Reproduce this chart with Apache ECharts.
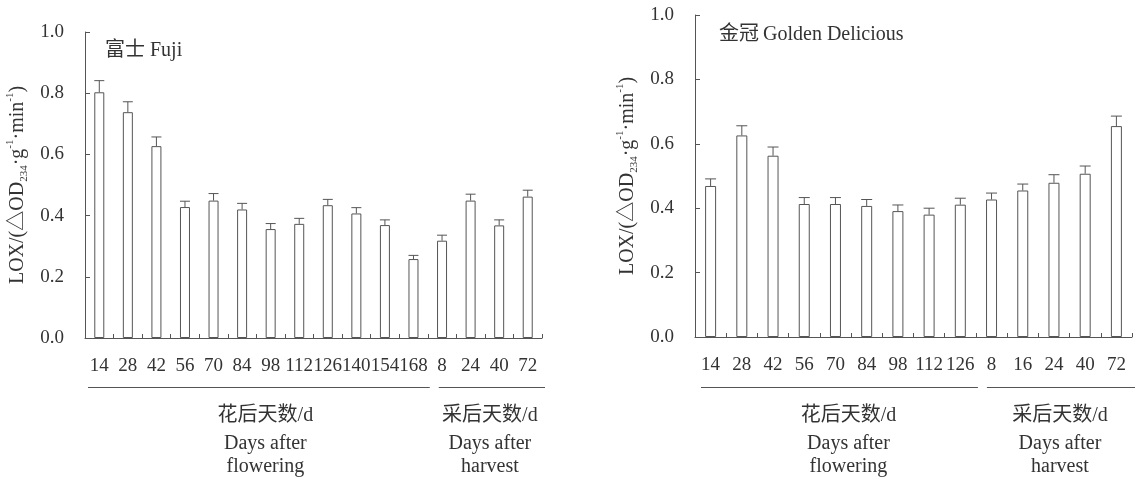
<!DOCTYPE html>
<html>
<head>
<meta charset="utf-8">
<script src="https://cdn.jsdelivr.net/npm/echarts@6/dist/echarts.min.js"></script>
<style>
html,body{margin:0;padding:0;background:#fff;}
#chart{width:1140px;height:484px;}
</style>
</head>
<body>
<div id="chart"></div>
<script>
// ---- data ----
const fujiCategories = ['14','28','42','56','70','84','98','112','126','140','154','168','8','24','40','72'];
const fujiValues = [0.803,0.738,0.627,0.428,0.449,0.420,0.356,0.373,0.434,0.407,0.369,0.258,0.318,0.449,0.368,0.462];
const fujiErrors = [0.038,0.034,0.030,0.019,0.023,0.020,0.018,0.018,0.019,0.019,0.017,0.012,0.018,0.021,0.018,0.021];
const fujiPreCount = 12;   // days after flowering
const goldenCategories = ['14','28','42','56','70','84','98','112','126','8','16','24','40','72'];
const goldenValues = [0.469,0.626,0.563,0.413,0.413,0.407,0.391,0.380,0.411,0.427,0.455,0.479,0.507,0.655];
const goldenErrors = [0.022,0.030,0.027,0.020,0.020,0.020,0.019,0.020,0.020,0.020,0.020,0.025,0.024,0.031];
const goldenPreCount = 9;
const yTicks = [0, 0.2, 0.4, 0.6, 0.8, 1.0];
const titles = ['富士 Fuji', '金冠\u2009Golden Delicious'];
const groupLabels = [['花后天数/d','Days after','flowering'], ['采后天数/d','Days after','harvest']];

const SERIF = '"Liberation Serif","Times New Roman","Noto Sans CJK SC",serif';
const AXIS_COLOR = '#555';
const TEXT_COLOR = '#333';

const chart = echarts.init(document.getElementById('chart'));

function yAxisCfg(gi){
  return {
    type:'value', gridIndex:gi, min:yTicks[0], max:yTicks[yTicks.length-1], interval:0.2,
    axisLine:{show:true, lineStyle:{color:AXIS_COLOR, width:1}},
    axisTick:{show:true, inside:true, length:5, lineStyle:{color:AXIS_COLOR}},
    splitLine:{show:false},
    axisLabel:{margin:21, fontFamily:SERIF, fontSize:19, color:TEXT_COLOR, formatter:v=>v.toFixed(1)},
    name:'{m|LOX/(△OD}{sub|234}{m|·g}{sup|-1}{m|·min}{sup|-1}{m|)}',
    nameLocation:'middle', nameRotate:90, nameGap:55,
    nameTextStyle:{
      fontFamily:SERIF, fontSize:20, color:TEXT_COLOR,
      rich:{
        m:{fontFamily:SERIF, fontSize:20, lineHeight:25, color:TEXT_COLOR, verticalAlign:'middle'},
        sub:{fontFamily:SERIF, fontSize:11, color:TEXT_COLOR, verticalAlign:'bottom'},
        sup:{fontFamily:SERIF, fontSize:11, color:TEXT_COLOR, verticalAlign:'top'}
      }
    }
  };
}
function xAxisCfg(gi, cats){
  return {
    type:'category', gridIndex:gi, data:cats,
    axisLine:{show:true, lineStyle:{color:AXIS_COLOR, width:1}},
    axisTick:{show:true, inside:true, length:4, lineStyle:{color:AXIS_COLOR}},
    axisLabel:{interval:0, hideOverlap:false, margin:19, fontFamily:SERIF, fontSize:19, color:TEXT_COLOR}
  };
}
function barSeries(gi, vals, w){
  return {
    type:'bar', xAxisIndex:gi, yAxisIndex:gi, data:vals, barWidth:w,
    itemStyle:{color:'#fff', borderColor:AXIS_COLOR, borderWidth:1},
    silent:true, animation:false
  };
}
function errSeries(gi, vals, errs, capHalf){
  return {
    type:'custom', xAxisIndex:gi, yAxisIndex:gi,
    data: vals.map((v,i)=>[i, v, errs[i]]),
    encode:{x:0, y:1},
    renderItem:function(params, api){
      const i = api.value(0), v = api.value(1), e = api.value(2);
      const p0 = api.coord([i, v]);
      const p1 = api.coord([i, v+e]);
      const style = {stroke:AXIS_COLOR, lineWidth:1, fill:null};
      return {type:'group', children:[
        {type:'line', shape:{x1:p0[0], y1:p0[1], x2:p1[0], y2:p1[1]}, style:style},
        {type:'line', shape:{x1:p1[0]-capHalf, y1:p1[1], x2:p1[0]+capHalf, y2:p1[1]}, style:style}
      ]};
    },
    silent:true, animation:false, z:3
  };
}

chart.setOption({
  backgroundColor:'#fff',
  animation:false,
  grid:[
    {left:85, top:32, width:457, height:306},
    {left:695, top:15, width:437, height:322}
  ],
  title:[
    {text:titles[0], left:100, top:36, textStyle:{fontFamily:SERIF, fontSize:20, fontWeight:'normal', color:TEXT_COLOR}},
    {text:titles[1], left:714, top:20, textStyle:{fontFamily:SERIF, fontSize:20, fontWeight:'normal', color:TEXT_COLOR}}
  ],
  xAxis:[xAxisCfg(0, fujiCategories), xAxisCfg(1, goldenCategories)],
  yAxis:[yAxisCfg(0), yAxisCfg(1)],
  series:[
    barSeries(0, fujiValues, 10),
    errSeries(0, fujiValues, fujiErrors, 5),
    barSeries(1, goldenValues, 11),
    errSeries(1, goldenValues, goldenErrors, 5.5)
  ]
});

// group annotations (lines + labels) positioned from the category axes
function groupGraphics(axisIdx, nCats, preCount, offs){
  const c0 = chart.convertToPixel({xAxisIndex:axisIdx}, 0);
  const c1 = chart.convertToPixel({xAxisIndex:axisIdx}, 1);
  const bw = c1 - c0;
  const b = k => c0 - bw/2 + k*bw;   // boundary k
  const lineY = 387.5;
  const els = [];
  const groups = [
    {x1:b(0)+offs.a, x2:b(preCount)+2, tx:(b(0)+b(preCount))/2 + offs.t1, labels:groupLabels[0]},
    {x1:b(preCount)+11, x2:b(nCats)+3, tx:(b(preCount)+b(nCats))/2 + offs.t2, labels:groupLabels[1]}
  ];
  groups.forEach(g=>{
    els.push({type:'line', silent:true, shape:{x1:g.x1, y1:lineY, x2:g.x2, y2:lineY}, style:{stroke:AXIS_COLOR, lineWidth:1}});
    const ys = [416, 444, 467];
    g.labels.forEach((t, j)=>{
      els.push({type:'text', silent:true, x:g.tx, y:ys[j], style:{text:t, fill:TEXT_COLOR, fontFamily:SERIF, fontSize:20, textAlign:'center', textVerticalAlign:'middle'}});
    });
  });
  return els;
}
const graphics = [].concat(
  groupGraphics(0, fujiCategories.length, fujiPreCount, {a:3, t1:9, t2:5}),
  groupGraphics(1, goldenCategories.length, goldenPreCount, {a:6, t1:13, t2:6})
);
chart.setOption({graphic:graphics});
</script>
</body>
</html>
